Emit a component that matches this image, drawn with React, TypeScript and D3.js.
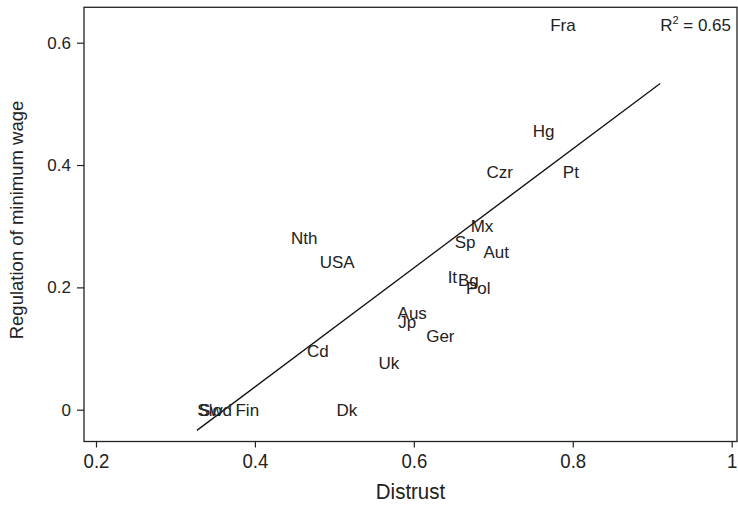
import { useEffect, useRef } from "react";
import * as d3 from "d3";

// Country labels and their values
const countries = ["Fra", "Hg", "Pt", "Czr", "Mx", "Sp", "Aut", "It", "Bg", "Pol", "Aus", "Jp", "Ger", "Uk", "Cd", "Dk", "Nth", "USA", "Swd", "Slo", "Fin"];
const distrust = [0.769, 0.747, 0.785, 0.689, 0.669, 0.649, 0.685, 0.640, 0.653, 0.663, 0.577, 0.578, 0.613, 0.553, 0.463, 0.500, 0.443, 0.479, 0.327, 0.325, 0.373];
const regulation = [0.629, 0.456, 0.389, 0.389, 0.301, 0.274, 0.258, 0.217, 0.212, 0.199, 0.158, 0.143, 0.120, 0.076, 0.096, 0.0, 0.281, 0.242, 0.0, 0.0, 0.0];

// Fitted line
const fitRange = [0.327, 0.91];
const fitSlope = 0.973;
const fitIntercept = -0.352;

const xTicks = [0.2, 0.4, 0.6, 0.8, 1];
const yTicks = [0, 0.2, 0.4, 0.6];

const sans = "'Liberation Sans', Arial, sans-serif";

export default function App() {
  const svgRef = useRef<SVGSVGElement>(null);

  useEffect(() => {
    if (!svgRef.current) return;
    const svg = d3.select(svgRef.current);
    svg.selectAll("*").remove();

    const left = 84, right = 737, top = 7.3, bottom = 441.5;

    const x = d3.scaleLinear().domain([0.2, 1]).range([96, 731.7]);
    const y = d3.scaleLinear().domain([0, 0.6]).range([409.7, 42.7]);

    // Frame
    svg
      .append("rect")
      .attr("x", left)
      .attr("y", top)
      .attr("width", right - left)
      .attr("height", bottom - top)
      .attr("fill", "none")
      .attr("stroke", "#222")
      .attr("stroke-width", 1.3);

    // X axis (slightly narrow labels)
    const xAxis = svg
      .append("g")
      .attr("transform", `translate(0,${bottom})`)
      .call(d3.axisBottom(x).tickValues(xTicks).tickSize(6).tickPadding(6).tickFormat((d) => String(d)));
    xAxis.select(".domain").remove();
    xAxis.selectAll("line").attr("stroke", "#222").attr("stroke-width", 1.2);
    xAxis
      .selectAll("text")
      .attr("fill", "#222")
      .attr("transform", "scale(0.93,1)")
      .style("font-family", sans)
      .style("font-size", "20px");

    // Y axis
    const yAxis = svg
      .append("g")
      .attr("transform", `translate(${left},0)`)
      .call(d3.axisLeft(y).tickValues(yTicks).tickSize(7).tickPadding(6).tickFormat((d) => String(d)));
    yAxis.select(".domain").remove();
    yAxis.selectAll("line").attr("stroke", "#222").attr("stroke-width", 1.2);
    yAxis
      .selectAll("text")
      .attr("fill", "#222")
      .style("font-family", sans)
      .style("font-size", "17px");

    // Axis titles
    svg
      .append("g")
      .attr("transform", `translate(${(left + right) / 2},499) scale(0.93,1)`)
      .append("text")
      .attr("text-anchor", "middle")
      .style("font-family", sans)
      .style("font-size", "22px")
      .attr("fill", "#222")
      .text("Distrust");

    svg
      .append("text")
      .attr("transform", `translate(23,220) rotate(-90)`)
      .attr("text-anchor", "middle")
      .style("font-family", sans)
      .style("font-size", "18.5px")
      .attr("fill", "#222")
      .text("Regulation of minimum wage");

    // Fit line
    svg
      .append("line")
      .attr("x1", x(fitRange[0]))
      .attr("y1", y(fitIntercept + fitSlope * fitRange[0]))
      .attr("x2", x(fitRange[1]))
      .attr("y2", y(fitIntercept + fitSlope * fitRange[1]))
      .attr("stroke", "#111")
      .attr("stroke-width", 1.3);

    // Labels to the right of each (invisible) point
    svg
      .selectAll("text.lab")
      .data(countries)
      .enter()
      .append("text")
      .attr("class", "lab")
      .attr("x", (_d, i) => x(distrust[i]) + 2)
      .attr("y", (_d, i) => y(regulation[i]))
      .attr("dy", "0.35em")
      .style("font-family", sans)
      .style("font-size", "17px")
      .attr("fill", "#222")
      .text((d) => d);

    // R squared
    const r2 = svg
      .append("text")
      .attr("x", 731)
      .attr("y", 31)
      .attr("text-anchor", "end")
      .style("font-family", sans)
      .style("font-size", "17px")
      .attr("fill", "#222");
    r2.append("tspan").text("R");
    r2.append("tspan").attr("dy", -7).style("font-size", "11px").text("2");
    r2.append("tspan").attr("dy", 7).text(" = 0.65");
  }, []);

  return (
    <svg
      ref={svgRef}
      width={738}
      height={505}
      style={{ position: "absolute", left: 0, top: 0, background: "#fff" }}
    />
  );
}
